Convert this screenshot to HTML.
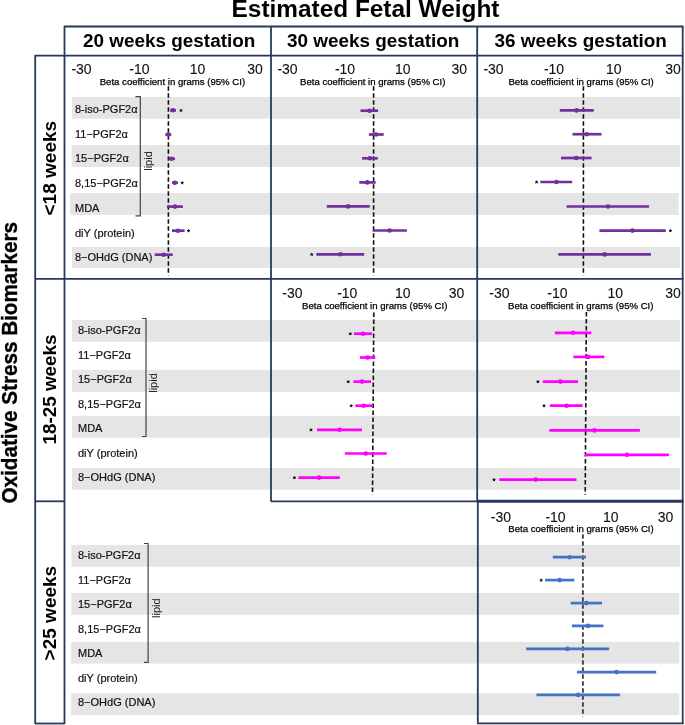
<!DOCTYPE html>
<html><head><meta charset="utf-8"><style>
html,body{margin:0;padding:0;background:#fff;width:685px;height:725px;overflow:hidden}
svg{display:block;font-family:"Liberation Sans", sans-serif;will-change:transform}
</style></head><body>
<svg width="685" height="725" viewBox="0 0 685 725">
<rect width="685" height="725" fill="#fff"/>
<rect x="71.8" y="96.9" width="608.50" height="21.80" fill="#e5e5e5"/>
<rect x="71.6" y="145.0" width="608.50" height="22.00" fill="#e5e5e5"/>
<rect x="70.1" y="193.0" width="608.60" height="21.90" fill="#e5e5e5"/>
<rect x="71.9" y="246.9" width="608.20" height="21.00" fill="#e5e5e5"/>
<rect x="72" y="320.0" width="608.10" height="21.80" fill="#e5e5e5"/>
<rect x="72" y="369.9" width="608.10" height="21.90" fill="#e5e5e5"/>
<rect x="71.9" y="415.8" width="608.20" height="21.90" fill="#e5e5e5"/>
<rect x="71.9" y="467.9" width="608.20" height="21.90" fill="#e5e5e5"/>
<rect x="71.5" y="544.9" width="608.60" height="21.90" fill="#e5e5e5"/>
<rect x="71.3" y="592.9" width="608.00" height="21.90" fill="#e5e5e5"/>
<rect x="71.1" y="641.9" width="608.20" height="21.70" fill="#e5e5e5"/>
<rect x="71.1" y="693.3" width="608.20" height="21.80" fill="#e5e5e5"/>
<text x="75.0" y="112.9" font-size="11" text-anchor="start" font-weight="normal" fill="#111" stroke="#111" stroke-width="0.2">8-iso-PGF2α</text>
<text x="75.0" y="137.9" font-size="11" text-anchor="start" font-weight="normal" fill="#111" stroke="#111" stroke-width="0.2">11−PGF2α</text>
<text x="75.0" y="162.1" font-size="11" text-anchor="start" font-weight="normal" fill="#111" stroke="#111" stroke-width="0.2">15−PGF2α</text>
<text x="75.0" y="187.4" font-size="11" text-anchor="start" font-weight="normal" fill="#111" stroke="#111" stroke-width="0.2">8,15−PGF2α</text>
<text x="75.0" y="211.7" font-size="11" text-anchor="start" font-weight="normal" fill="#111" stroke="#111" stroke-width="0.2">MDA</text>
<text x="75.0" y="236.7" font-size="11" text-anchor="start" font-weight="normal" fill="#111" stroke="#111" stroke-width="0.2">diY (protein)</text>
<text x="75.0" y="260.8" font-size="11" text-anchor="start" font-weight="normal" fill="#111" stroke="#111" stroke-width="0.2">8−OHdG (DNA)</text>
<text x="78.0" y="334.2" font-size="11" text-anchor="start" font-weight="normal" fill="#111" stroke="#111" stroke-width="0.2">8-iso-PGF2α</text>
<text x="78.0" y="359.0" font-size="11" text-anchor="start" font-weight="normal" fill="#111" stroke="#111" stroke-width="0.2">11−PGF2α</text>
<text x="78.0" y="383.2" font-size="11" text-anchor="start" font-weight="normal" fill="#111" stroke="#111" stroke-width="0.2">15−PGF2α</text>
<text x="78.0" y="407.9" font-size="11" text-anchor="start" font-weight="normal" fill="#111" stroke="#111" stroke-width="0.2">8,15−PGF2α</text>
<text x="78.0" y="432.2" font-size="11" text-anchor="start" font-weight="normal" fill="#111" stroke="#111" stroke-width="0.2">MDA</text>
<text x="78.0" y="457.2" font-size="11" text-anchor="start" font-weight="normal" fill="#111" stroke="#111" stroke-width="0.2">diY (protein)</text>
<text x="78.0" y="481.4" font-size="11" text-anchor="start" font-weight="normal" fill="#111" stroke="#111" stroke-width="0.2">8−OHdG (DNA)</text>
<text x="78.0" y="559.4" font-size="11" text-anchor="start" font-weight="normal" fill="#111" stroke="#111" stroke-width="0.2">8-iso-PGF2α</text>
<text x="78.0" y="583.6" font-size="11" text-anchor="start" font-weight="normal" fill="#111" stroke="#111" stroke-width="0.2">11−PGF2α</text>
<text x="78.0" y="607.8" font-size="11" text-anchor="start" font-weight="normal" fill="#111" stroke="#111" stroke-width="0.2">15−PGF2α</text>
<text x="78.0" y="632.8" font-size="11" text-anchor="start" font-weight="normal" fill="#111" stroke="#111" stroke-width="0.2">8,15−PGF2α</text>
<text x="78.0" y="657.1" font-size="11" text-anchor="start" font-weight="normal" fill="#111" stroke="#111" stroke-width="0.2">MDA</text>
<text x="78.0" y="681.8" font-size="11" text-anchor="start" font-weight="normal" fill="#111" stroke="#111" stroke-width="0.2">diY (protein)</text>
<text x="78.0" y="706.0" font-size="11" text-anchor="start" font-weight="normal" fill="#111" stroke="#111" stroke-width="0.2">8−OHdG (DNA)</text>
<path d="M135.5 96.7 H140.3 V215.8 H135.5" fill="none" stroke="#444" stroke-width="1.2"/>
<text transform="translate(151.5,161) rotate(-90)" x="0" y="0" font-size="11" text-anchor="middle" fill="#1a1a1a">lipid</text>
<path d="M141.8 318.5 H146.0 V436.5 H141.8" fill="none" stroke="#444" stroke-width="1.2"/>
<text transform="translate(157.0,383) rotate(-90)" x="0" y="0" font-size="11" text-anchor="middle" fill="#1a1a1a">lipid</text>
<path d="M144.0 543.5 H148.1 V662.4 H144.0" fill="none" stroke="#444" stroke-width="1.2"/>
<text transform="translate(160.0,608.2) rotate(-90)" x="0" y="0" font-size="11" text-anchor="middle" fill="#1a1a1a">lipid</text>
<text x="81.5" y="73.8" font-size="14" text-anchor="middle" font-weight="normal" fill="#111" stroke="#111" stroke-width="0.1">-30</text>
<text x="139.4" y="73.8" font-size="14" text-anchor="middle" font-weight="normal" fill="#111" stroke="#111" stroke-width="0.1">-10</text>
<text x="197.6" y="73.8" font-size="14" text-anchor="middle" font-weight="normal" fill="#111" stroke="#111" stroke-width="0.1">10</text>
<text x="255" y="73.8" font-size="14" text-anchor="middle" font-weight="normal" fill="#111" stroke="#111" stroke-width="0.1">30</text>
<text x="172.4" y="84.6" font-size="9.6" text-anchor="middle" font-weight="normal" fill="#000" stroke="#000" stroke-width="0.25">Beta coefficient in grams (95% CI)</text>
<line x1="168.4" y1="86.3" x2="168.4" y2="275.5" stroke="#111" stroke-width="1.6" stroke-dasharray="4.5 2.5"/>
<line x1="170.2" y1="110.3" x2="176.0" y2="110.3" stroke="#7030a0" stroke-width="2.7"/>
<circle cx="172.9" cy="110.3" r="2.3" fill="#7030a0"/>
<path d="M181.00 110.50 L181.00 109.30 M181.00 110.50 L182.14 110.13 M181.00 110.50 L181.71 111.47 M181.00 110.50 L180.29 111.47 M181.00 110.50 L179.86 110.13" stroke="#111" stroke-width="1.0" stroke-linecap="round" fill="none"/>
<line x1="165.3" y1="134.5" x2="171.3" y2="134.5" stroke="#7030a0" stroke-width="2.7"/>
<circle cx="168.3" cy="134.5" r="2.3" fill="#7030a0"/>
<line x1="168.6" y1="158.7" x2="175.0" y2="158.7" stroke="#7030a0" stroke-width="2.7"/>
<circle cx="171.7" cy="158.7" r="2.3" fill="#7030a0"/>
<line x1="172.0" y1="182.7" x2="177.9" y2="182.7" stroke="#7030a0" stroke-width="2.7"/>
<circle cx="174.8" cy="182.7" r="2.3" fill="#7030a0"/>
<path d="M182.20 182.90 L182.20 181.70 M182.20 182.90 L183.34 182.53 M182.20 182.90 L182.91 183.87 M182.20 182.90 L181.49 183.87 M182.20 182.90 L181.06 182.53" stroke="#111" stroke-width="1.0" stroke-linecap="round" fill="none"/>
<line x1="167.0" y1="206.6" x2="182.9" y2="206.6" stroke="#7030a0" stroke-width="2.7"/>
<circle cx="175.0" cy="206.6" r="2.3" fill="#7030a0"/>
<line x1="172.0" y1="230.7" x2="184.6" y2="230.7" stroke="#7030a0" stroke-width="2.7"/>
<circle cx="178.0" cy="230.7" r="2.3" fill="#7030a0"/>
<path d="M188.50 230.90 L188.50 229.70 M188.50 230.90 L189.64 230.53 M188.50 230.90 L189.21 231.87 M188.50 230.90 L187.79 231.87 M188.50 230.90 L187.36 230.53" stroke="#111" stroke-width="1.0" stroke-linecap="round" fill="none"/>
<line x1="154.7" y1="254.7" x2="172.7" y2="254.7" stroke="#7030a0" stroke-width="2.7"/>
<circle cx="163.6" cy="254.7" r="2.3" fill="#7030a0"/>
<text x="287.5" y="73.8" font-size="14" text-anchor="middle" font-weight="normal" fill="#111" stroke="#111" stroke-width="0.1">-30</text>
<text x="345" y="73.8" font-size="14" text-anchor="middle" font-weight="normal" fill="#111" stroke="#111" stroke-width="0.1">-10</text>
<text x="402.8" y="73.8" font-size="14" text-anchor="middle" font-weight="normal" fill="#111" stroke="#111" stroke-width="0.1">10</text>
<text x="459.2" y="73.8" font-size="14" text-anchor="middle" font-weight="normal" fill="#111" stroke="#111" stroke-width="0.1">30</text>
<text x="372.7" y="84.6" font-size="9.6" text-anchor="middle" font-weight="normal" fill="#000" stroke="#000" stroke-width="0.25">Beta coefficient in grams (95% CI)</text>
<line x1="373.6" y1="86.3" x2="373.6" y2="275.5" stroke="#111" stroke-width="1.6" stroke-dasharray="4.5 2.5"/>
<line x1="360.5" y1="110.7" x2="378.1" y2="110.7" stroke="#7030a0" stroke-width="2.7"/>
<circle cx="369.5" cy="110.7" r="2.3" fill="#7030a0"/>
<line x1="368.9" y1="134.5" x2="383.7" y2="134.5" stroke="#7030a0" stroke-width="2.7"/>
<circle cx="376.0" cy="134.5" r="2.3" fill="#7030a0"/>
<line x1="362.0" y1="158.3" x2="377.8" y2="158.3" stroke="#7030a0" stroke-width="2.7"/>
<circle cx="369.8" cy="158.3" r="2.3" fill="#7030a0"/>
<line x1="359.3" y1="182.4" x2="375.7" y2="182.4" stroke="#7030a0" stroke-width="2.7"/>
<circle cx="367.3" cy="182.4" r="2.3" fill="#7030a0"/>
<line x1="326.8" y1="206.4" x2="369.8" y2="206.4" stroke="#7030a0" stroke-width="2.7"/>
<circle cx="348.2" cy="206.4" r="2.3" fill="#7030a0"/>
<line x1="372.6" y1="230.5" x2="406.9" y2="230.5" stroke="#7030a0" stroke-width="2.7"/>
<circle cx="389.6" cy="230.5" r="2.3" fill="#7030a0"/>
<line x1="316.3" y1="254.3" x2="364.2" y2="254.3" stroke="#7030a0" stroke-width="2.7"/>
<circle cx="340.4" cy="254.3" r="2.3" fill="#7030a0"/>
<path d="M311.70 254.50 L311.70 253.30 M311.70 254.50 L312.84 254.13 M311.70 254.50 L312.41 255.47 M311.70 254.50 L310.99 255.47 M311.70 254.50 L310.56 254.13" stroke="#111" stroke-width="1.0" stroke-linecap="round" fill="none"/>
<text x="493.5" y="73.8" font-size="14" text-anchor="middle" font-weight="normal" fill="#111" stroke="#111" stroke-width="0.1">-30</text>
<text x="554" y="73.8" font-size="14" text-anchor="middle" font-weight="normal" fill="#111" stroke="#111" stroke-width="0.1">-10</text>
<text x="613.8" y="73.8" font-size="14" text-anchor="middle" font-weight="normal" fill="#111" stroke="#111" stroke-width="0.1">10</text>
<text x="673" y="73.8" font-size="14" text-anchor="middle" font-weight="normal" fill="#111" stroke="#111" stroke-width="0.1">30</text>
<text x="581.1" y="84.6" font-size="9.6" text-anchor="middle" font-weight="normal" fill="#000" stroke="#000" stroke-width="0.25">Beta coefficient in grams (95% CI)</text>
<line x1="583.4" y1="86.3" x2="583.4" y2="275.5" stroke="#111" stroke-width="1.6" stroke-dasharray="4.5 2.5"/>
<line x1="559.8" y1="110.4" x2="593.8" y2="110.4" stroke="#7030a0" stroke-width="2.7"/>
<circle cx="576.5" cy="110.4" r="2.3" fill="#7030a0"/>
<line x1="572.5" y1="134.2" x2="601.5" y2="134.2" stroke="#7030a0" stroke-width="2.7"/>
<circle cx="586.7" cy="134.2" r="2.3" fill="#7030a0"/>
<line x1="561.0" y1="158.0" x2="591.6" y2="158.0" stroke="#7030a0" stroke-width="2.7"/>
<circle cx="576.2" cy="158.0" r="2.3" fill="#7030a0"/>
<line x1="540.3" y1="182.0" x2="572.2" y2="182.0" stroke="#7030a0" stroke-width="2.7"/>
<circle cx="556.4" cy="182.0" r="2.3" fill="#7030a0"/>
<path d="M536.60 182.20 L536.60 181.00 M536.60 182.20 L537.74 181.83 M536.60 182.20 L537.31 183.17 M536.60 182.20 L535.89 183.17 M536.60 182.20 L535.46 181.83" stroke="#111" stroke-width="1.0" stroke-linecap="round" fill="none"/>
<line x1="566.6" y1="206.5" x2="649.1" y2="206.5" stroke="#7030a0" stroke-width="2.7"/>
<circle cx="608.0" cy="206.5" r="2.3" fill="#7030a0"/>
<line x1="599.4" y1="230.6" x2="665.8" y2="230.6" stroke="#7030a0" stroke-width="2.7"/>
<circle cx="632.4" cy="230.6" r="2.3" fill="#7030a0"/>
<path d="M670.40 230.80 L670.40 229.60 M670.40 230.80 L671.54 230.43 M670.40 230.80 L671.11 231.77 M670.40 230.80 L669.69 231.77 M670.40 230.80 L669.26 230.43" stroke="#111" stroke-width="1.0" stroke-linecap="round" fill="none"/>
<line x1="558.3" y1="254.4" x2="651.0" y2="254.4" stroke="#7030a0" stroke-width="2.7"/>
<circle cx="604.6" cy="254.4" r="2.3" fill="#7030a0"/>
<text x="292.4" y="298.2" font-size="14" text-anchor="middle" font-weight="normal" fill="#111" stroke="#111" stroke-width="0.1">-30</text>
<text x="347.3" y="298.2" font-size="14" text-anchor="middle" font-weight="normal" fill="#111" stroke="#111" stroke-width="0.1">-10</text>
<text x="402.8" y="298.2" font-size="14" text-anchor="middle" font-weight="normal" fill="#111" stroke="#111" stroke-width="0.1">10</text>
<text x="456.6" y="298.2" font-size="14" text-anchor="middle" font-weight="normal" fill="#111" stroke="#111" stroke-width="0.1">30</text>
<text x="374.7" y="308.8" font-size="9.6" text-anchor="middle" font-weight="normal" fill="#000" stroke="#000" stroke-width="0.25">Beta coefficient in grams (95% CI)</text>
<line x1="373.8" y1="312.4" x2="372.5" y2="494.8" stroke="#111" stroke-width="1.6" stroke-dasharray="4.5 2.5"/>
<line x1="354.0" y1="333.7" x2="372.0" y2="333.7" stroke="#ff00ff" stroke-width="2.7"/>
<circle cx="363.0" cy="333.7" r="2.3" fill="#ff00ff"/>
<path d="M350.30 333.90 L350.30 332.70 M350.30 333.90 L351.44 333.53 M350.30 333.90 L351.01 334.87 M350.30 333.90 L349.59 334.87 M350.30 333.90 L349.16 333.53" stroke="#111" stroke-width="1.0" stroke-linecap="round" fill="none"/>
<line x1="359.9" y1="357.5" x2="375.3" y2="357.5" stroke="#ff00ff" stroke-width="2.7"/>
<circle cx="367.6" cy="357.5" r="2.3" fill="#ff00ff"/>
<line x1="353.4" y1="381.6" x2="371.0" y2="381.6" stroke="#ff00ff" stroke-width="2.7"/>
<circle cx="362.0" cy="381.6" r="2.3" fill="#ff00ff"/>
<path d="M348.20 381.80 L348.20 380.60 M348.20 381.80 L349.34 381.43 M348.20 381.80 L348.91 382.77 M348.20 381.80 L347.49 382.77 M348.20 381.80 L347.06 381.43" stroke="#111" stroke-width="1.0" stroke-linecap="round" fill="none"/>
<line x1="355.3" y1="405.7" x2="372.0" y2="405.7" stroke="#ff00ff" stroke-width="2.7"/>
<circle cx="363.6" cy="405.7" r="2.3" fill="#ff00ff"/>
<path d="M351.20 405.90 L351.20 404.70 M351.20 405.90 L352.34 405.53 M351.20 405.90 L351.91 406.87 M351.20 405.90 L350.49 406.87 M351.20 405.90 L350.06 405.53" stroke="#111" stroke-width="1.0" stroke-linecap="round" fill="none"/>
<line x1="317.0" y1="429.8" x2="362.0" y2="429.8" stroke="#ff00ff" stroke-width="2.7"/>
<circle cx="339.5" cy="429.8" r="2.3" fill="#ff00ff"/>
<path d="M311.00 430.00 L311.00 428.80 M311.00 430.00 L312.14 429.63 M311.00 430.00 L311.71 430.97 M311.00 430.00 L310.29 430.97 M311.00 430.00 L309.86 429.63" stroke="#111" stroke-width="1.0" stroke-linecap="round" fill="none"/>
<line x1="344.8" y1="453.5" x2="386.8" y2="453.5" stroke="#ff00ff" stroke-width="2.7"/>
<circle cx="365.8" cy="453.5" r="2.3" fill="#ff00ff"/>
<line x1="298.4" y1="477.6" x2="339.8" y2="477.6" stroke="#ff00ff" stroke-width="2.7"/>
<circle cx="319.1" cy="477.6" r="2.3" fill="#ff00ff"/>
<path d="M294.40 477.80 L294.40 476.60 M294.40 477.80 L295.54 477.43 M294.40 477.80 L295.11 478.77 M294.40 477.80 L293.69 478.77 M294.40 477.80 L293.26 477.43" stroke="#111" stroke-width="1.0" stroke-linecap="round" fill="none"/>
<text x="499.4" y="298.2" font-size="14" text-anchor="middle" font-weight="normal" fill="#111" stroke="#111" stroke-width="0.1">-30</text>
<text x="557.4" y="298.2" font-size="14" text-anchor="middle" font-weight="normal" fill="#111" stroke="#111" stroke-width="0.1">-10</text>
<text x="615.3" y="298.2" font-size="14" text-anchor="middle" font-weight="normal" fill="#111" stroke="#111" stroke-width="0.1">10</text>
<text x="673" y="298.2" font-size="14" text-anchor="middle" font-weight="normal" fill="#111" stroke="#111" stroke-width="0.1">30</text>
<text x="580.8" y="308.8" font-size="9.6" text-anchor="middle" font-weight="normal" fill="#000" stroke="#000" stroke-width="0.25">Beta coefficient in grams (95% CI)</text>
<line x1="586.4" y1="312.0" x2="585.2" y2="494.7" stroke="#111" stroke-width="1.6" stroke-dasharray="4.5 2.5"/>
<line x1="554.9" y1="332.8" x2="591.3" y2="332.8" stroke="#ff00ff" stroke-width="2.7"/>
<circle cx="573.1" cy="332.8" r="2.3" fill="#ff00ff"/>
<line x1="573.4" y1="356.9" x2="604.3" y2="356.9" stroke="#ff00ff" stroke-width="2.7"/>
<circle cx="588.2" cy="356.9" r="2.3" fill="#ff00ff"/>
<line x1="542.8" y1="381.6" x2="578.0" y2="381.6" stroke="#ff00ff" stroke-width="2.7"/>
<circle cx="560.4" cy="381.6" r="2.3" fill="#ff00ff"/>
<path d="M537.90 381.80 L537.90 380.60 M537.90 381.80 L539.04 381.43 M537.90 381.80 L538.61 382.77 M537.90 381.80 L537.19 382.77 M537.90 381.80 L536.76 381.43" stroke="#111" stroke-width="1.0" stroke-linecap="round" fill="none"/>
<line x1="549.9" y1="405.7" x2="582.7" y2="405.7" stroke="#ff00ff" stroke-width="2.7"/>
<circle cx="566.6" cy="405.7" r="2.3" fill="#ff00ff"/>
<path d="M544.00 405.90 L544.00 404.70 M544.00 405.90 L545.14 405.53 M544.00 405.90 L544.71 406.87 M544.00 405.90 L543.29 406.87 M544.00 405.90 L542.86 405.53" stroke="#111" stroke-width="1.0" stroke-linecap="round" fill="none"/>
<line x1="549.3" y1="430.4" x2="639.9" y2="430.4" stroke="#ff00ff" stroke-width="2.7"/>
<circle cx="594.4" cy="430.4" r="2.3" fill="#ff00ff"/>
<line x1="584.8" y1="454.8" x2="668.9" y2="454.8" stroke="#ff00ff" stroke-width="2.7"/>
<circle cx="626.9" cy="454.8" r="2.3" fill="#ff00ff"/>
<line x1="499.2" y1="479.6" x2="576.5" y2="479.6" stroke="#ff00ff" stroke-width="2.7"/>
<circle cx="535.7" cy="479.6" r="2.3" fill="#ff00ff"/>
<path d="M494.00 479.80 L494.00 478.60 M494.00 479.80 L495.14 479.43 M494.00 479.80 L494.71 480.77 M494.00 479.80 L493.29 480.77 M494.00 479.80 L492.86 479.43" stroke="#111" stroke-width="1.0" stroke-linecap="round" fill="none"/>
<text x="500.9" y="522.4" font-size="14" text-anchor="middle" font-weight="normal" fill="#111" stroke="#111" stroke-width="0.1">-30</text>
<text x="555.5" y="522.4" font-size="14" text-anchor="middle" font-weight="normal" fill="#111" stroke="#111" stroke-width="0.1">-10</text>
<text x="610.7" y="522.4" font-size="14" text-anchor="middle" font-weight="normal" fill="#111" stroke="#111" stroke-width="0.1">10</text>
<text x="665.5" y="522.4" font-size="14" text-anchor="middle" font-weight="normal" fill="#111" stroke="#111" stroke-width="0.1">30</text>
<text x="581" y="532.0999999999999" font-size="9.6" text-anchor="middle" font-weight="normal" fill="#000" stroke="#000" stroke-width="0.25">Beta coefficient in grams (95% CI)</text>
<line x1="582.9" y1="534.2" x2="582.9" y2="716.6" stroke="#444" stroke-width="1.9" stroke-dasharray="4.5 2.5"/>
<line x1="552.8" y1="557.2" x2="586.0" y2="557.2" stroke="#4472c4" stroke-width="2.7"/>
<circle cx="569.6" cy="557.2" r="2.3" fill="#4472c4"/>
<line x1="545.1" y1="580.1" x2="574.3" y2="580.1" stroke="#4472c4" stroke-width="2.7"/>
<circle cx="559.7" cy="580.1" r="2.3" fill="#4472c4"/>
<path d="M541.20 580.30 L541.20 579.10 M541.20 580.30 L542.34 579.93 M541.20 580.30 L541.91 581.27 M541.20 580.30 L540.49 581.27 M541.20 580.30 L540.06 579.93" stroke="#111" stroke-width="1.0" stroke-linecap="round" fill="none"/>
<line x1="570.7" y1="603.1" x2="602.0" y2="603.1" stroke="#4472c4" stroke-width="2.7"/>
<circle cx="586.4" cy="603.1" r="2.3" fill="#4472c4"/>
<line x1="571.9" y1="625.9" x2="603.4" y2="625.9" stroke="#4472c4" stroke-width="2.7"/>
<circle cx="587.9" cy="625.9" r="2.3" fill="#4472c4"/>
<line x1="526.1" y1="648.9" x2="609.1" y2="648.9" stroke="#4472c4" stroke-width="2.7"/>
<circle cx="567.5" cy="648.9" r="2.3" fill="#4472c4"/>
<line x1="576.9" y1="672.1" x2="656.2" y2="672.1" stroke="#4472c4" stroke-width="2.7"/>
<circle cx="616.6" cy="672.1" r="2.3" fill="#4472c4"/>
<line x1="536.4" y1="694.9" x2="620.1" y2="694.9" stroke="#4472c4" stroke-width="2.7"/>
<circle cx="578.2" cy="694.9" r="2.3" fill="#4472c4"/>
<line x1="64" y1="26.5" x2="683.5" y2="26.5" stroke="#27395f" stroke-width="1.8"/>
<line x1="35" y1="55.6" x2="683.5" y2="55.6" stroke="#27395f" stroke-width="1.8"/>
<line x1="64.5" y1="26" x2="64.5" y2="724" stroke="#27395f" stroke-width="1.8"/>
<line x1="271" y1="26" x2="271" y2="501.5" stroke="#27395f" stroke-width="1.8"/>
<line x1="477.2" y1="26" x2="477.2" y2="501.5" stroke="#27395f" stroke-width="1.8"/>
<line x1="477.8" y1="501" x2="477.8" y2="724" stroke="#27395f" stroke-width="1.8"/>
<line x1="682.7" y1="26" x2="682.7" y2="724" stroke="#27395f" stroke-width="1.8"/>
<line x1="35.2" y1="55" x2="35.2" y2="724" stroke="#27395f" stroke-width="1.8"/>
<line x1="35" y1="278.8" x2="683.5" y2="278.8" stroke="#27395f" stroke-width="1.8"/>
<line x1="35" y1="501.3" x2="64.5" y2="501.3" stroke="#27395f" stroke-width="1.8"/>
<line x1="271" y1="501.3" x2="477.5" y2="501.3" stroke="#27395f" stroke-width="1.8"/>
<line x1="477" y1="501.3" x2="683.5" y2="501.3" stroke="#27395f" stroke-width="3"/>
<line x1="35" y1="723.5" x2="64.5" y2="723.5" stroke="#27395f" stroke-width="1.8"/>
<line x1="477" y1="723.3" x2="683.5" y2="723.3" stroke="#27395f" stroke-width="1.8"/>
<text x="169.2" y="47.2" font-size="18.9" text-anchor="middle" font-weight="bold" fill="#000" >20 weeks gestation</text>
<text x="373.2" y="47.2" font-size="18.9" text-anchor="middle" font-weight="bold" fill="#000" >30 weeks gestation</text>
<text x="580.7" y="47.2" font-size="18.9" text-anchor="middle" font-weight="bold" fill="#000" >36 weeks gestation</text>
<text x="365.5" y="17" font-size="24.4" text-anchor="middle" font-weight="bold" fill="#000" >Estimated Fetal Weight</text>
<text transform="translate(56,168.2) rotate(-90)" font-size="19.2" font-weight="bold" text-anchor="middle" textLength="94.6" lengthAdjust="spacingAndGlyphs">&lt;18 weeks</text>
<text transform="translate(56,389.5) rotate(-90)" font-size="19.2" font-weight="bold" text-anchor="middle" textLength="110.2" lengthAdjust="spacingAndGlyphs">18-25 weeks</text>
<text transform="translate(56,613.1) rotate(-90)" font-size="19.2" font-weight="bold" text-anchor="middle" textLength="94.6" lengthAdjust="spacingAndGlyphs">&gt;25 weeks</text>
<text transform="translate(17.2,362.8) rotate(-90)" font-size="22.5" font-weight="bold" text-anchor="middle" stroke="#000" stroke-width="0.35" textLength="281.5" lengthAdjust="spacingAndGlyphs">Oxidative Stress Biomarkers</text>
</svg>
</body></html>
